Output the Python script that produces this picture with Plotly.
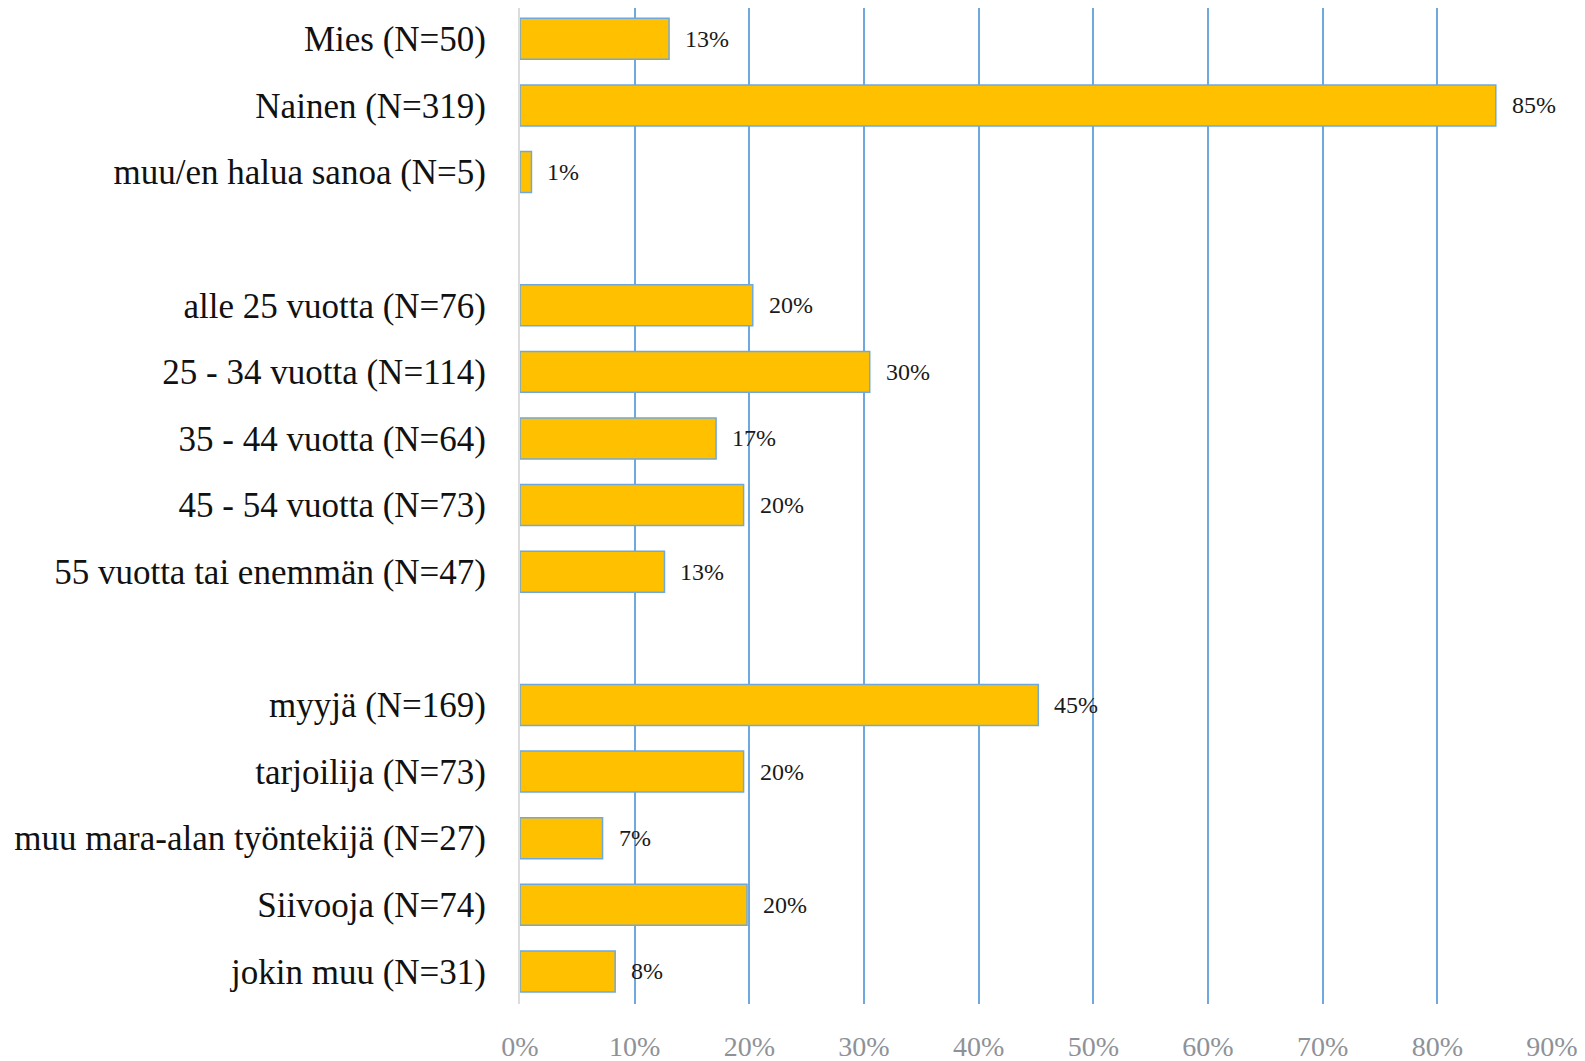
import plotly.graph_objects as go

categories = [
    "Mies (N=50)", "Nainen (N=319)", "muu/en halua sanoa (N=5)",
    " ",
    "alle 25 vuotta (N=76)", "25 - 34 vuotta (N=114)", "35 - 44 vuotta (N=64)",
    "45 - 54 vuotta (N=73)", "55 vuotta tai enemmän (N=47)",
    "  ",
    "myyjä (N=169)", "tarjoilija (N=73)", "muu mara-alan työntekijä (N=27)",
    "Siivooja (N=74)", "jokin muu (N=31)",
]
values = [13.0, 85.1, 1.0, None,
          20.3, 30.5, 17.1, 19.5, 12.6, None,
          45.2, 19.5, 7.2, 19.8, 8.3]
x_ticks = [0, 10, 20, 30, 40, 50, 60, 70, 80, 90]
x_tick_labels = [f"{t}%" for t in x_ticks]

FONT = "Liberation Serif"

fig = go.Figure(go.Bar(
    x=values, y=categories, orientation="h",
    marker=dict(color="#FFC000", line=dict(color="#6FA8DC", width=1.5)),
    width=0.615,
    hoverinfo="skip",
))

for c, v in zip(categories, values):
    if v is None:
        continue
    fig.add_annotation(x=v, y=c, text=f"{round(v)}%", showarrow=False,
                       xanchor="left", yanchor="middle", xshift=14,
                       font=dict(family=FONT, size=24, color="#1a1a1a"))

fig.update_layout(
    width=1577, height=1053,
    margin=dict(l=512, r=33, t=0, b=57, pad=0),
    plot_bgcolor="white", paper_bgcolor="white",
    showlegend=False,
    font=dict(family=FONT),
)
fig.update_xaxes(
    range=[0, 90], tickvals=x_ticks, ticktext=x_tick_labels,
    showgrid=True, gridcolor="#6FA8DC", gridwidth=1.6,
    zeroline=False, showline=False,
    tickfont=dict(family=FONT, size=28, color="#8E9298"),
    ticks="", ticklabelstandoff=23,
)
fig.update_yaxes(
    type="category", categoryorder="array", categoryarray=categories,
    range=[14.489, -0.462], showgrid=False, zeroline=False,
    showline=True, linecolor="#DCDCDC", linewidth=2,
    tickfont=dict(family=FONT, size=35, color="#111111"),
    ticks="", ticklabelstandoff=25,
)

fig.write_html("out.html")
